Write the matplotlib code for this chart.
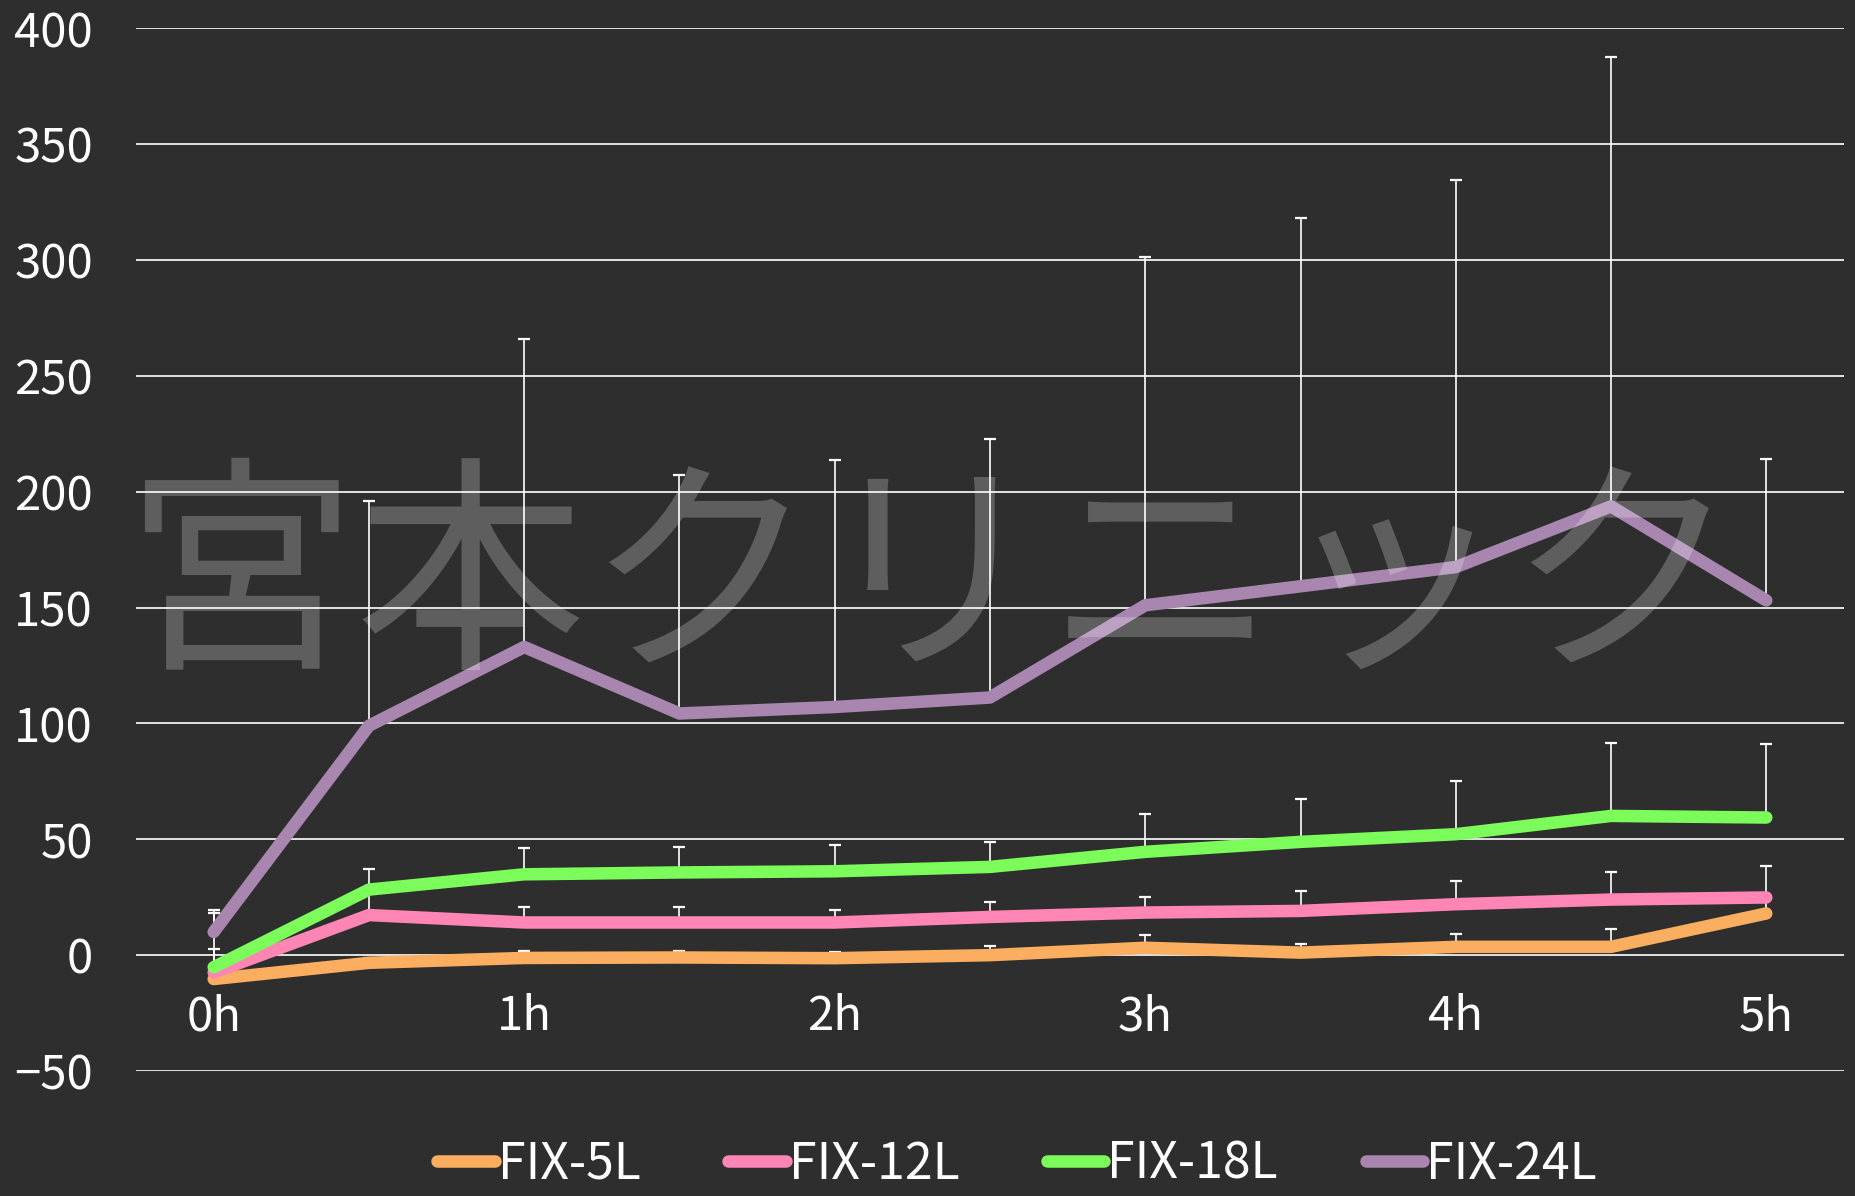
import numpy as np
import matplotlib.pyplot as plt
from matplotlib.lines import Line2D

plt.rcParams['font.family'] = ['Noto Sans CJK JP', 'DejaVu Sans']

# half-hour steps, labels only on whole hours
times = ['0h', '0.5h', '1h', '1.5h', '2h', '2.5h', '3h', '3.5h', '4h', '4.5h', '5h']
tick_labels = ['0h', '1h', '2h', '3h', '4h', '5h']

series_names = ['FIX-5L', 'FIX-12L', 'FIX-18L', 'FIX-24L']

fix5 = [-10.3, -3.3, -1.2, -1.0, -1.3, 0.0, 3.2, 1.1, 3.6, 3.6, 18.0]
fix12 = [-7.5, 17.3, 14.1, 14.1, 14.1, 16.5, 18.4, 19.1, 22.0, 24.0, 24.9]
fix18 = [-5.2, 28.3, 34.9, 35.7, 36.2, 38.1, 44.6, 48.9, 52.2, 60.1, 59.4]
fix24 = [10.0, 99.0, 133.0, 104.3, 107.1, 111.2, 151.0, 159.2, 167.5, 193.7, 153.1]

# upper error bars only
fix5_err = [3.0, 2.0, 2.9, 2.7, 2.7, 4.0, 5.4, 3.9, 5.6, 7.8, 7.0]
fix12_err = [10.0, 10.2, 6.5, 6.5, 5.6, 6.4, 6.5, 8.4, 10.2, 11.8, 13.4]
fix18_err = [23.2, 9.1, 11.4, 10.8, 11.3, 10.6, 16.4, 18.4, 22.9, 31.5, 31.6]
fix24_err = [9.7, 97.0, 133.0, 103.1, 106.7, 111.5, 150.2, 158.8, 166.9, 193.8, 61.2]

colors = ['#FCAE60', '#FF85B5', '#7CFC5A', '#A886B0']
values = [fix5, fix12, fix18, fix24]
errors = [fix5_err, fix12_err, fix18_err, fix24_err]

bg = '#2e2e2e'
fig = plt.figure(figsize=(18.56, 11.96), dpi=100, facecolor=bg)
ax = fig.add_axes([0.0733, 0.1045, 0.9202, 0.8718])
ax.set_facecolor(bg)

x = np.arange(len(times))

# error bars first, lines drawn over them
for vals, err in zip(values, errors):
    ax.errorbar(x, vals, yerr=[np.zeros(len(err)), err], fmt='none',
                ecolor='white', elinewidth=1.2, capsize=4.5, capthick=1.6, zorder=2)

for i, (vals, col, name) in enumerate(zip(values, colors, series_names)):
    ax.plot(x, vals, color=col, lw=9, solid_capstyle='round',
            solid_joinstyle='round', zorder=3 + i, label=name)

ax.set_xlim(-0.5, len(times) - 0.5)
ax.set_ylim(-50, 400)
ax.set_yticks(range(-50, 401, 50))
ax.set_yticklabels(['\u221250' if v < 0 else str(v) for v in range(-50, 401, 50)])
ax.set_xticks(x[::2])
ax.set_xticklabels(tick_labels)

ax.grid(axis='y', color='#f0f0f0', lw=1.3, zorder=1)
ax.set_axisbelow(True)
for s in ax.spines.values():
    s.set_visible(False)
ax.spines['bottom'].set_position(('data', 0))
ax.tick_params(axis='x', length=0, pad=27, labelsize=34, labelcolor='white')
ax.tick_params(axis='y', length=0, pad=31, labelsize=34, labelcolor='white')

# legend below the plot
leg_handles = [Line2D([0], [0], color=c, lw=9, solid_capstyle='round') for c in colors]
fig.legend(leg_handles, series_names, loc='center', bbox_to_anchor=(0.548, 0.026),
           ncol=4, frameon=False, fontsize=36, labelcolor='white',
           handlelength=1.15, handletextpad=0.06, columnspacing=1.75)

# clinic watermark
fig.text(0.502, 0.510, '宮本クリニック', fontsize=166, color='white', alpha=0.23,
         ha='center', va='center')

fig.savefig('out.png', dpi=100, facecolor=bg)
